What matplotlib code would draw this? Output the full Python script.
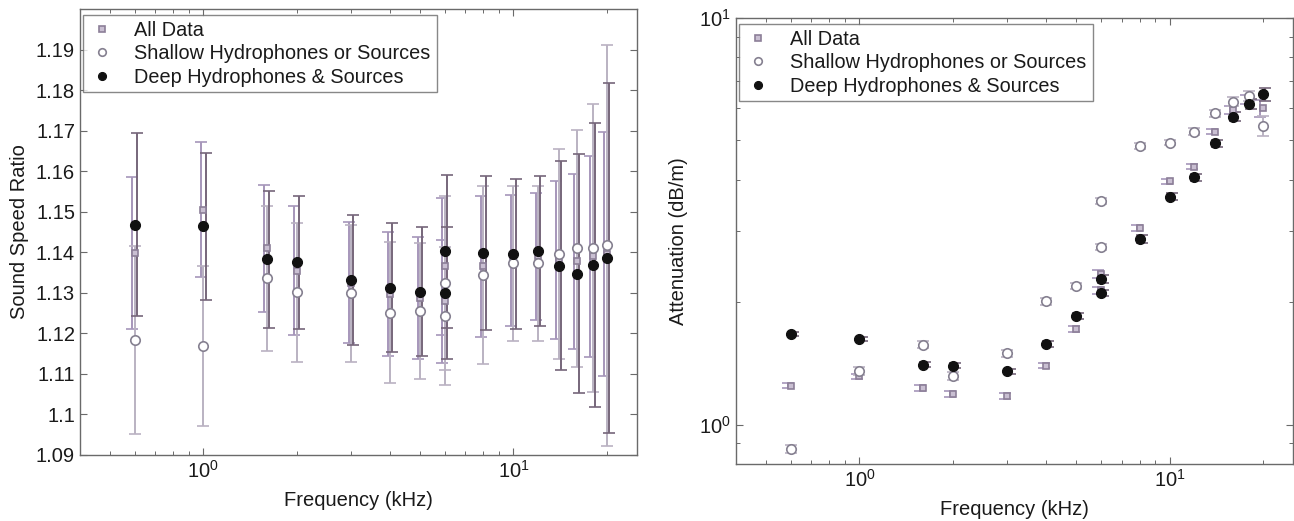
import matplotlib
matplotlib.use("Agg")
import matplotlib.pyplot as plt
from matplotlib.ticker import FixedLocator, FixedFormatter, LogLocator, NullFormatter
import numpy as np

plt.rcParams['font.family'] = ['Liberation Sans', 'DejaVu Sans']
plt.rcParams['mathtext.fontset'] = 'custom'
plt.rcParams['mathtext.rm'] = 'Liberation Sans'
plt.rcParams['mathtext.it'] = 'Liberation Sans:italic'
plt.rcParams['mathtext.bf'] = 'Liberation Sans:bold'

# frequencies in kHz (two separate runs at 6 kHz)
freq = [0.6, 1, 1.6, 2, 3, 4, 5, 6, 6, 8, 10, 12, 14, 16, 18, 20]

# sound speed ratio, mean and +/- error
ratio_all = [1.1398, 1.1505, 1.1410, 1.1355, 1.1325, 1.1298, 1.1287, 1.1365, 1.1279,
             1.1365, 1.1380, 1.1390, 1.1380, 1.1378, 1.1390, 1.1395]
err_all = [0.0188, 0.0166, 0.0157, 0.0160, 0.0150, 0.0153, 0.0151, 0.0170, 0.0152,
           0.0175, 0.0162, 0.0156, 0.0195, 0.0216, 0.0248, 0.0301]
ratio_shallow = [1.1184, 1.1169, 1.1336, 1.1301, 1.1299, 1.1251, 1.1256, 1.1324, 1.1243,
                 1.1344, 1.1373, 1.1373, 1.1396, 1.1410, 1.1410, 1.1417]
err_shallow = [0.0232, 0.0197, 0.0179, 0.0171, 0.0169, 0.0174, 0.0168, 0.0214, 0.0170,
               0.0219, 0.0191, 0.0191, 0.0259, 0.0292, 0.0355, 0.0494]
ratio_deep = [1.1468, 1.1464, 1.1383, 1.1375, 1.1332, 1.1313, 1.1303, 1.1402, 1.1299,
              1.1398, 1.1396, 1.1402, 1.1367, 1.1347, 1.1369, 1.1386]
err_deep = [0.0226, 0.0182, 0.0169, 0.0165, 0.0160, 0.0159, 0.0159, 0.0188, 0.0163,
            0.0189, 0.0185, 0.0185, 0.0257, 0.0295, 0.0351, 0.0432]

# attenuation in dB/m, mean and +/- error
atten_all = [1.247, 1.314, 1.231, 1.190, 1.174, 1.396, 1.718, 2.350, 2.140,
             3.043, 3.963, 4.312, 5.257, 5.94, 6.30, 6.00]
atten_err_all = [0.02, 0.02, 0.02, 0.02, 0.02, 0.02, 0.03, 0.05, 0.04,
                 0.05, 0.06, 0.07, 0.08, 0.12, 0.15, 0.30]
atten_shallow = [0.871, 1.357, 1.573, 1.314, 1.500, 2.009, 2.196, 3.551, 2.737,
                 4.849, 4.94, 5.257, 5.83, 6.23, 6.44, 5.43]
atten_err_shallow = [0.02, 0.03, 0.03, 0.03, 0.03, 0.04, 0.04, 0.06, 0.05,
                     0.08, 0.08, 0.10, 0.12, 0.15, 0.18, 0.30]
atten_deep = [1.670, 1.626, 1.404, 1.396, 1.352, 1.579, 1.853, 2.280, 2.106,
              2.859, 3.639, 4.053, 4.92, 5.72, 6.15, 6.49]
atten_err_deep = [0.02, 0.02, 0.02, 0.02, 0.02, 0.03, 0.03, 0.05, 0.04,
                  0.06, 0.07, 0.08, 0.10, 0.15, 0.18, 0.23]

labels = ["All Data", "Shallow Hydrophones or Sources", "Deep Hydrophones & Sources"]
ratio_ticks = [1.09, 1.10, 1.11, 1.12, 1.13, 1.14, 1.15, 1.16, 1.17, 1.18, 1.19]

box_col = "#6a6a6a"
txt_col = "#1a1a1a"
bar_cols = ["#a696ba", "#bab2c2", "#76667a"]
shift = [0.982, 1.0, 1.016]


def style_axes(ax):
    for s in ax.spines.values():
        s.set_color(box_col)
        s.set_linewidth(1.0)
    ax.tick_params(which="both", direction="in", top=True, right=True,
                   colors=box_col, labelcolor=txt_col, labelsize=14.5)
    ax.tick_params(which="major", length=5, width=0.8)
    ax.tick_params(which="minor", length=3, width=0.7)
    ax.set_xscale("log")
    ax.set_xlim(0.4, 25)
    ax.xaxis.set_major_locator(FixedLocator([1, 10]))
    ax.xaxis.set_minor_locator(LogLocator(base=10, subs=np.arange(2, 10)))
    ax.xaxis.set_minor_formatter(NullFormatter())
    ax.set_xticklabels([r"$10^{0}$", r"$10^{1}$"])
    ax.set_xlabel("Frequency (kHz)", fontsize=14.5, color=txt_col, labelpad=7)


def draw_series(ax, ys, errs):
    f = np.array(freq)
    for k in range(3):
        ax.errorbar(f * shift[k], ys[k], yerr=errs[k], fmt="none", ecolor=bar_cols[k],
                    elinewidth=1.4, capsize=4.5, capthick=1.2, zorder=2 + k)
    h1, = ax.plot(f, ys[0], "s", ms=4.8, mfc="#c9bfd2", mec="#8c7f98", mew=1.2,
                  ls="none", zorder=6, label=labels[0])
    h2, = ax.plot(f, ys[1], "o", ms=6.8, mfc="white", mec="#858090", mew=1.2,
                  ls="none", zorder=7, label=labels[1])
    h3, = ax.plot(f, ys[2], "o", ms=7.2, mfc="#111111", mec="#111111", mew=0.8,
                  ls="none", zorder=8, label=labels[2])
    leg = ax.legend(handles=[h1, h2, h3], loc="upper left", bbox_to_anchor=(0.005, 0.987),
                    borderaxespad=0, fontsize=14.3, frameon=True, fancybox=False,
                    edgecolor=box_col, handlelength=1.3, handletextpad=1.0,
                    labelspacing=0.22, borderpad=0.3, markerscale=0.8)
    leg.get_frame().set_linewidth(1.0)
    for t in leg.get_texts():
        t.set_color(txt_col)


fig = plt.figure(figsize=(12.94, 5.21), dpi=100)

# sound speed ratio
ax1 = fig.add_axes([0.0618, 0.1267, 0.4304, 0.856])
draw_series(ax1, [ratio_all, ratio_shallow, ratio_deep], [err_all, err_shallow, err_deep])
style_axes(ax1)
ax1.set_ylim(1.09, 1.2)
ax1.yaxis.set_major_locator(FixedLocator(ratio_ticks))
ax1.yaxis.set_major_formatter(FixedFormatter(["%g" % v for v in ratio_ticks]))
ax1.set_ylabel("Sound Speed Ratio", fontsize=14.5, color=txt_col, labelpad=5)

# attenuation
ax2 = fig.add_axes([0.5688, 0.1094, 0.4304, 0.856])
draw_series(ax2, [atten_all, atten_shallow, atten_deep],
            [atten_err_all, atten_err_shallow, atten_err_deep])
style_axes(ax2)
ax2.set_yscale("log")
ax2.set_ylim(0.8, 10)
ax2.yaxis.set_major_locator(FixedLocator([1, 10]))
ax2.yaxis.set_minor_locator(LogLocator(base=10, subs=np.arange(2, 10)))
ax2.yaxis.set_minor_formatter(NullFormatter())
ax2.set_yticklabels([r"$10^{0}$", r"$10^{1}$"])
ax2.set_ylabel("Attenuation (dB/m)", fontsize=14.5, color=txt_col, labelpad=8)

fig.savefig("out.png", dpi=100)
